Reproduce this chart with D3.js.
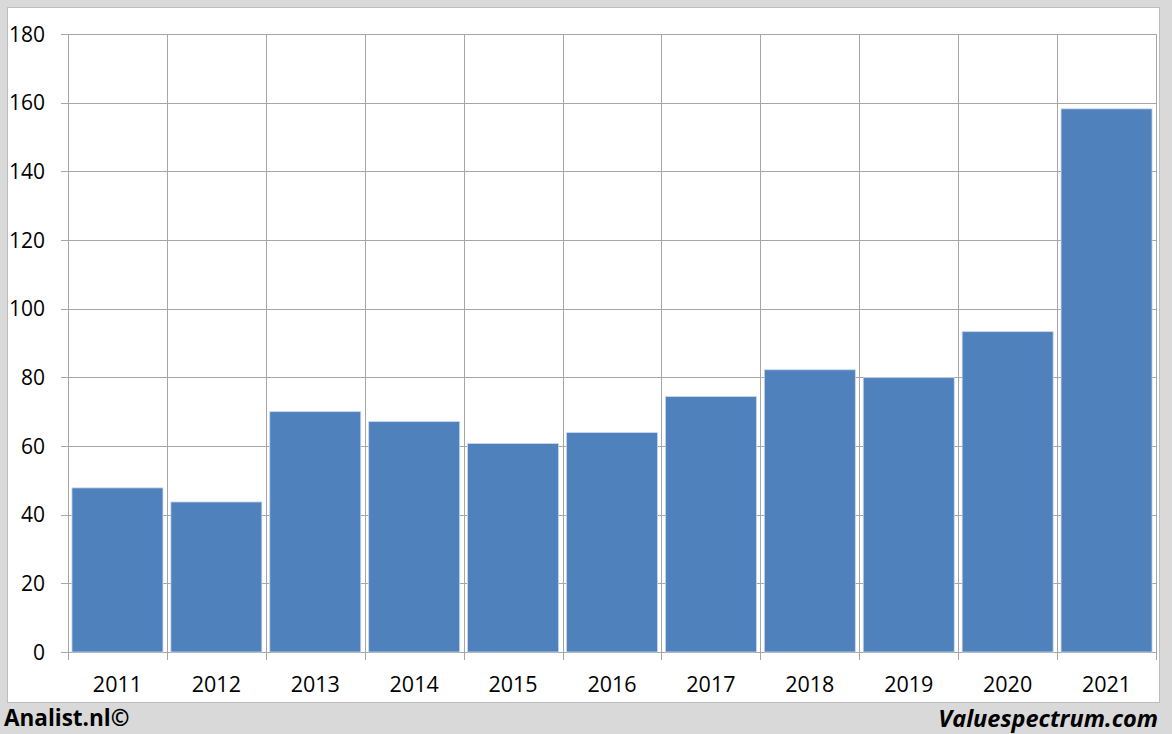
<!DOCTYPE html>
<html><head><meta charset="utf-8">
<script src="https://cdn.jsdelivr.net/npm/d3@7"></script>
<style>html,body{margin:0;padding:0;background:#d9d9d9;}</style>
</head><body>
<svg id="c" width="1172" height="734"></svg>
<script>
const years = ["2011","2012","2013","2014","2015","2016","2017","2018","2019","2020","2021"];
const values = [47.8, 43.7, 70.0, 67.1, 60.7, 63.9, 74.4, 82.2, 79.9, 93.3, 158.2];
const yTicks = [0,20,40,60,80,100,120,140,160,180];

const svg = d3.select("#c");
const font = "'Open Sans', 'Liberation Sans', sans-serif";
svg.append("rect").attr("x",0).attr("y",0).attr("width",1172).attr("height",734).attr("fill","#d9d9d9");
svg.append("rect").attr("x",7.5).attr("y",7.5).attr("width",1152).attr("height",695).attr("fill","#fff").attr("stroke","#bdbdbd").attr("stroke-width",1);

const L=68, R=1156, T=34, B=652;
const x = d3.scaleBand().domain(years).range([L,R]).paddingInner(0.08).paddingOuter(0.04);
const xb = d3.scaleBand().domain(years).range([L,R]);
const y = d3.scaleLinear().domain([0,180]).range([B,T]);

const g = svg.append("g");
g.selectAll("line.h").data(yTicks).enter().append("line")
 .attr("x1",L-7).attr("x2",R).attr("y1",d=>Math.round(y(d))+0.5).attr("y2",d=>Math.round(y(d))+0.5)
 .attr("stroke","#a6a6a6").attr("stroke-width",1);
const bounds = years.map(d=>xb(d)).concat([R]);
g.selectAll("line.v").data(bounds).enter().append("line")
 .attr("x1",d=>Math.round(d)+0.5).attr("x2",d=>Math.round(d)+0.5).attr("y1",T).attr("y2",B+8)
 .attr("stroke","#a6a6a6").attr("stroke-width",1);

g.selectAll("rect.bar").data(values).enter().append("rect")
 .attr("x",(d,i)=>x(years[i])).attr("width",x.bandwidth())
 .attr("y",d=>y(d)).attr("height",d=>B-y(d))
 .attr("fill","#4f81bd").attr("stroke","#c9d7ea").attr("stroke-width",0.8);

g.selectAll("text.y").data(yTicks).enter().append("text")
 .attr("x",45).attr("y",d=>y(d)).attr("dy","0.36em").attr("text-anchor","end")
 .attr("font-family",font).attr("font-size",21).attr("fill","#000").text(d=>d);
g.selectAll("text.x").data(years).enter().append("text")
 .attr("x",d=>xb(d)+xb.bandwidth()/2).attr("y",692).attr("text-anchor","middle")
 .attr("font-family",font).attr("font-size",21.5).attr("fill","#000").text(d=>d);

svg.append("text").attr("x",4).attr("y",726).attr("font-family",font).attr("font-weight","bold")
 .attr("font-size",22.5).attr("fill","#000").text("Analist.nl©");
svg.append("text").attr("x",1158).attr("y",727).attr("text-anchor","end").attr("font-family",font)
 .attr("font-weight","bold").attr("font-style","italic").attr("font-size",23.5).attr("fill","#000").text("Valuespectrum.com");
</script>
</body></html>
